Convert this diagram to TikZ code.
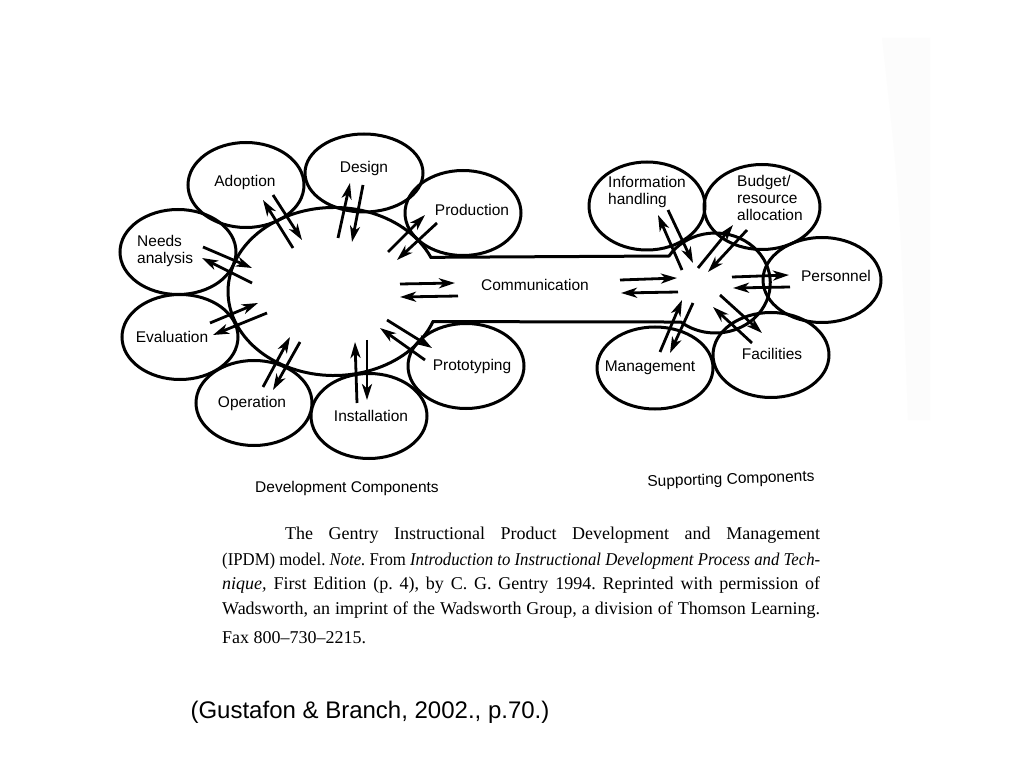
\documentclass[tikz,border=0pt]{standalone}
\usepackage{fontspec}
\setmainfont{Liberation Serif}
\setsansfont{Liberation Sans}
\usetikzlibrary{arrows.meta,shapes.geometric}
\frenchspacing

\tikzset{
  sat/.style={draw, ellipse, line width=3pt, minimum width=116pt, minimum height=85pt, inner sep=0pt},
  lbl/.style={font=\sffamily\fontsize{15.5}{17}\selectfont, align=left, inner sep=0pt},
  arr/.style={line width=2.8pt, -{Stealth[length=16pt,width=10pt,inset=4.5pt]}},
  capline/.style={font=\fontsize{18}{21}\selectfont, anchor=base west, inner sep=0pt},
}

\begin{document}
\begin{tikzpicture}[x=1pt,y=-1pt]
    \useasboundingbox[fill=white] (0,0) rectangle (1023,767);

    % Paper edge
    \fill[gray!2] (882,38) .. controls (900,200) .. (908,420) -- (930,420) -- (930,38) -- cycle;

    % Central shapes and channel
    \draw[line width=3pt] (433,321.6) arc[start angle=21, end angle=336, x radius=106, y radius=84]
        -- (669,256) arc[start angle=212.7, end angle=488.7, x radius=55, y radius=50] -- cycle;

    % Development components
    \node[sat] (adopt) at (246,185) {};
    \node[sat, minimum width=118pt, minimum height=78pt] (design) at (364,173) {};
    \node[sat] (prod) at (463,213) {};
    \node[sat] (needs) at (178,252) {};
    \node[sat] (eval) at (180,337) {};
    \node[sat] (oper) at (254,403) {};
    \node[sat] (inst) at (369,416) {};
    \node[sat] (proto) at (466,366) {};

    % Supporting components
    \node[sat, minimum height=88pt] (info) at (647,206) {};
    \node[sat] (budget) at (762,207) {};
    \node[sat, minimum width=118pt] (pers) at (822,280) {};
    \node[sat] (facil) at (771,355) {};
    \node[sat, minimum height=82pt] (manag) at (655,368) {};

    % Labels
    \node[lbl] (adoptlbl) at (245,182) {Adoption};
    \node[lbl] (designlbl) at (364,168) {Design};
    \node[lbl] (prodlbl) at (472,210) {Production};
    \node[lbl, anchor=west] (needslbl) at (137,251) {Needs\\analysis};
    \node[lbl] (evallbl) at (172,337) {Evaluation};
    \node[lbl] (operlbl) at (252,403) {Operation};
    \node[lbl] (instlbl) at (371,416) {Installation};
    \node[lbl] (protolbl) at (472,366) {Prototyping};
    \node[lbl] (commlbl) at (535,285) {Communication};
    \node[lbl, anchor=west] (infolbl) at (608,192) {Information\\handling};
    \node[lbl, anchor=west] (budgetlbl) at (737,198) {Budget/\\resource\\allocation};
    \node[lbl] (perslbl) at (836,276) {Personnel};
    \node[lbl] (facillbl) at (772,354) {Facilities};
    \node[lbl] (managlbl) at (650,368) {Management};

    \node[lbl] (devlbl) at (347,488) {Development Components};
    \node[lbl, rotate=2] (suplbl) at (731,480) {Supporting Components};

    % Arrows, left cluster
    \draw[arr] (293,248) -- (263,200);
    \draw[arr] (273,195) -- (302,240);

    \draw[arr] (338,238) -- (350,183);
    \draw[arr] (363,185) -- (352,242);

    \draw[arr] (388,252) -- (425,215);
    \draw[arr] (437,223) -- (397,260);

    \draw[arr] (203,247) -- (252,268);
    \draw[arr] (252,283) -- (202,258);

    \draw[arr] (210,323) -- (258,303);
    \draw[arr] (267,313) -- (213,335);

    \draw[arr] (263,387) -- (290,337);
    \draw[arr] (300,342) -- (273,390);

    \draw[arr] (357,403) -- (355,342);
    \draw[arr] (367,340) -- (367,400);

    \draw[arr] (387,320) -- (432,348);
    \draw[arr] (425,360) -- (380,328);

    % Arrows, channel
    \draw[arr] (400,284) -- (455,283);
    \draw[arr] (458,296) -- (400,297);

    \draw[arr] (620,280) -- (677,278);
    \draw[arr] (678,292) -- (621,293);

    % Arrows, right cluster
    \draw[arr] (682,270) -- (658,215);
    \draw[arr] (668,210) -- (693,263);

    \draw[arr] (698,268) -- (733,225);
    \draw[arr] (747,230) -- (708,272);

    \draw[arr] (732,277) -- (789,275);
    \draw[arr] (790,287) -- (733,288);

    \draw[arr] (720,295) -- (762,333);
    \draw[arr] (752,343) -- (713,307);

    \draw[arr] (693,303) -- (670,353);
    \draw[arr] (660,352) -- (682,300);

    % Caption
    \node[capline] (cap1) at (285,539) {\makebox[535pt][s]{The Gentry Instructional Product Development and Management}};
    \node[capline] (cap2) at (222,565) {\resizebox{598pt}{\height}{(IPDM) model. \textit{Note.} From \textit{Introduction to Instructional Development Process and Tech-}}};
    \node[capline] (cap3) at (222,589) {\makebox[598pt][s]{\textit{nique,} First Edition (p. 4), by C. G. Gentry 1994. Reprinted with permission of}};
    \node[capline] (cap4) at (222,614) {\makebox[598pt][s]{Wadsworth, an imprint of the Wadsworth Group, a division of Thomson Learning.}};
    \node[capline] (cap5) at (222,643) {Fax 800--730--2215.};

    % Source
    \node[font=\sffamily\fontsize{24}{28}\selectfont, inner sep=0pt] (source) at (370,712) {(Gustafon \& Branch, 2002., p.70.)};
\end{tikzpicture}
\end{document}
